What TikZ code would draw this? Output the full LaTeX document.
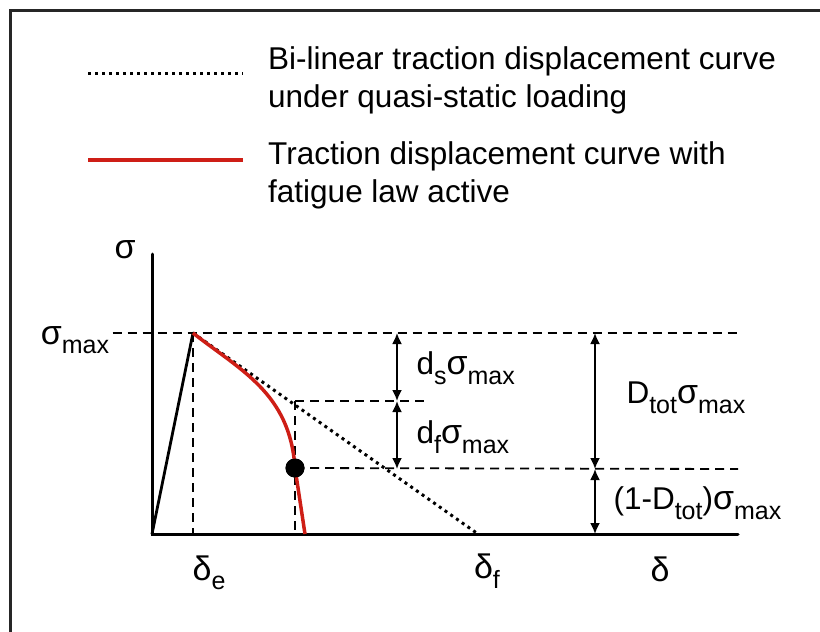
\documentclass[tikz,border=0pt]{standalone}
\usepackage{fontspec}
\setmainfont{Liberation Sans}
\usetikzlibrary{arrows.meta}
\definecolor{fatiguered}{RGB}{206,30,22}
\newcommand{\subidx}[1]{\raisebox{-0.3em}{\fontsize{25}{25}\selectfont #1}}
\newcommand{\smax}{{\fontsize{34}{34}\selectfont σ}\subidx{max}}

\begin{document}
\begin{tikzpicture}[
                x=1pt, y=-1pt,
                font=\fontsize{31.5}{38}\selectfont,
                >={Latex[length=11pt,width=10pt]},
                % stili delle linee
                axisline/.style={line width=3pt, line cap=round},
                helpline/.style={line width=1.8pt, dash pattern=on 9pt off 6pt},
                bilinear/.style={line width=3pt, dash pattern=on 3pt off 4pt},
                fatigue/.style={line width=3.5pt, fatiguered},
                dimarrow/.style={line width=1.8pt, <->},
                legtext/.style={anchor=west, align=left, inner sep=0pt}
            ]

                \useasboundingbox (0,0) rectangle (820,632);

                % ========================================================
                % 1. Cornice
                % ========================================================
                \draw[line width=3pt, black!85] (820,10) -- (10,10) -- (10,632);

                % ========================================================
                % 2. Legenda
                % ========================================================
                \coordinate (legA1) at (88,73);
                \coordinate (legA2) at (243,73);
                \coordinate (legB1) at (88,160);
                \coordinate (legB2) at (243,160);
                \draw[bilinear] (legA1) -- (legA2);
                \draw[fatigue] (legB1) -- (legB2);
                \node[legtext] (legBilin) at (268,80)
                    {Bi-linear traction displacement curve\\under quasi-static loading};
                \node[legtext] (legFat) at (268,175)
                    {Traction displacement curve with\\fatigue law active};

                % ========================================================
                % 3. Assi
                % ========================================================
                \coordinate (O) at (152,534);
                \coordinate (ytop) at (152,254);
                \coordinate (xend) at (738,534);
                \draw[axisline] (ytop) -- (O) -- (xend);
                \node (sigLab) at (125,250) {\fontsize{34}{34}\selectfont σ};
                \node (sigMaxLab) at (75,340) {\smax};

                % punti caratteristici
                \coordinate (peak) at (193,333);
                \coordinate (peakFoot) at (193,534);
                \coordinate (deltaF) at (478,534);
                \coordinate (knee) at (295,401);
                \coordinate (kneeFoot) at (295,534);
                \coordinate (redEnd) at (305,534);
                \node[circle, fill, inner sep=0pt, minimum size=19pt] (dot) at (295,468) {};

                % ========================================================
                % 4. Linee tratteggiate di riferimento
                % ========================================================
                \coordinate (topEnd) at (738,333);
                \coordinate (midEnd) at (427,401);
                \coordinate (lowEnd) at (738,469);
                \draw[helpline] (sigMaxLab.east |- peak) -- (topEnd);
                \draw[helpline] (knee) -- (midEnd);
                \draw[helpline] (dot.center) -- (lowEnd);
                \draw[helpline] (peak) -- (peakFoot);
                \draw[helpline] (knee) -- (kneeFoot);

                % ========================================================
                % 5. Curve
                % ========================================================
                \draw[axisline, line width=2.8pt] (O) -- (peak);
                \draw[bilinear] (peak) -- (deltaF);
                \draw[fatigue] (peak) .. controls (240,370) and (290,393) .. (dot.center) -- (redEnd);
                \node[circle, fill, inner sep=0pt, minimum size=19pt] at (dot) {};

                % ========================================================
                % 6. Quote
                % ========================================================
                \coordinate (aTop) at (397,333);
                \coordinate (aMid) at (397,401);
                \coordinate (aLow) at (397,469);
                \coordinate (bTop) at (595,333);
                \coordinate (bLow) at (595,469);
                \coordinate (bBot) at (595,534);
                \draw[dimarrow] (aTop) -- (aMid);
                \draw[dimarrow] (aMid) -- (aLow);
                \draw[dimarrow] (bTop) -- (bLow);
                \draw[dimarrow] (bLow) -- (bBot);

                \node[anchor=west] (dsLab) at (413,368) {d\subidx{s}\smax};
                \node[anchor=west] (dfLab) at (413,437) {d\subidx{f}\smax};
                \node[anchor=west] (dtotLab) at (623,398) {D\subidx{tot}\smax};
                \node[anchor=west] (restLab) at (610,503) {(1-D\subidx{tot})\smax};

                % etichette dell'asse orizzontale
                \node (deltaELab) at (209,573) {{\fontsize{34}{34}\selectfont δ}\subidx{e}};
                \node (deltaFLab) at (487,571) {{\fontsize{34}{34}\selectfont δ}\subidx{f}};
                \node (deltaLab) at (660,569) {\fontsize{34}{34}\selectfont δ};

            \end{tikzpicture}
\end{document}
